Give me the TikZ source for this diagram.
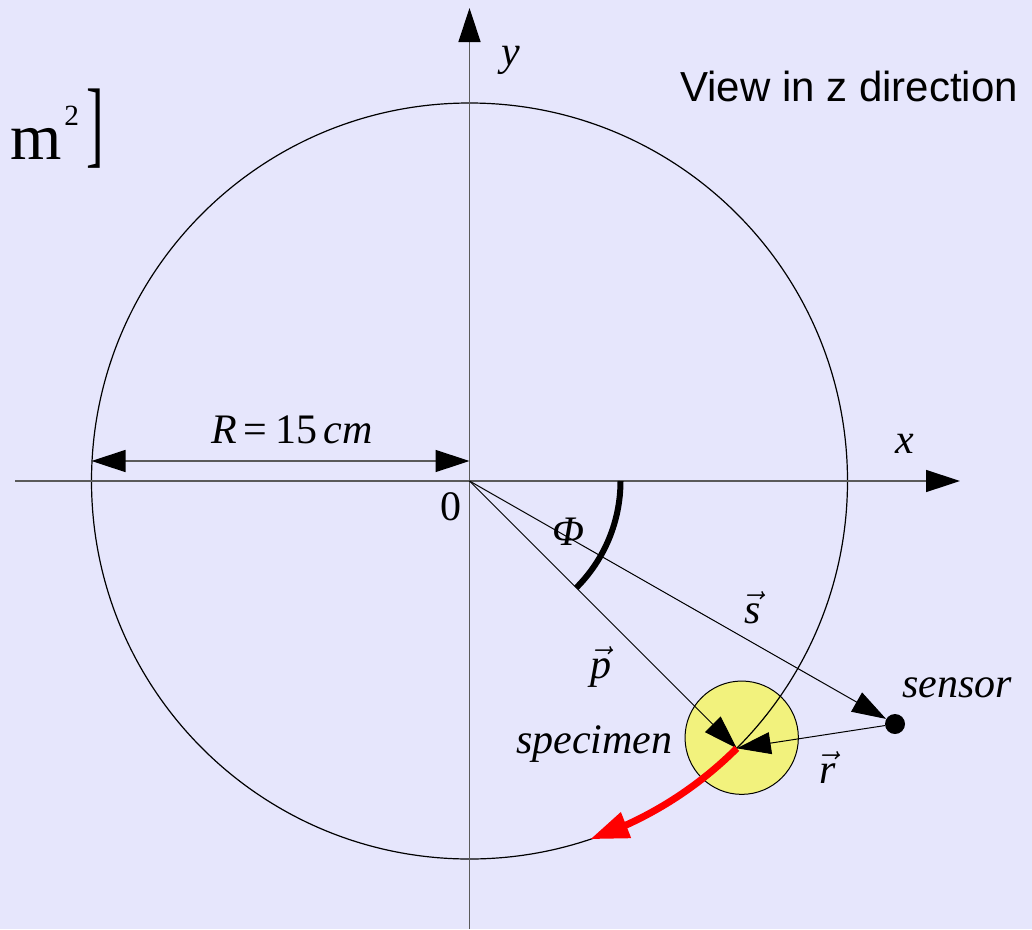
\RequirePackage{fix-cm}
\documentclass[tikz,border=0pt]{standalone}
\usepackage{fontspec}
\setmainfont{Liberation Serif}
\newfontfamily\arialfont{Liberation Sans}
\usetikzlibrary{arrows.meta,bending}
\definecolor{bgcol}{RGB}{230,230,252}
\definecolor{speccol}{RGB}{242,242,125}
\definecolor{axisgray}{RGB}{90,90,90}
\newcommand{\vlab}[1]{\ensuremath{\vec{\mbox{\itshape #1}}}}
\begin{document}
\begin{tikzpicture}[x=0.75pt,y=-0.75pt,
  lbl/.style={font=\fontsize{31.5}{36}\selectfont, inner sep=0pt},
  sanslbl/.style={font=\arialfont\fontsize{31.5}{36}\selectfont, inner sep=0pt},
  bigtip/.style={-{Triangle[length=25.5pt,width=16.5pt,color=black]}},
  axisline/.style={draw=axisgray, line width=1.1pt, bigtip},
  vect/.style={draw=black, line width=0.75pt, bigtip},
]
\fill[bgcol] (0,0) rectangle (1032,929);
\path[use as bounding box] (0,0) rectangle (1032,929);

% coordinates
\coordinate (O) at (469.5,481);
\coordinate (xs) at (15,481);
\coordinate (xe) at (960,481);
\coordinate (ys) at (469.5,929);
\coordinate (ye) at (469.5,8);
\coordinate (P) at (736.8,748.3);
\coordinate (phiA) at (620.5,481);
\coordinate (Rl) at (91.5,461);
\coordinate (Rr) at (469.5,461);

% specimen disc
\node[circle, draw=black, line width=0.75pt, fill=speccol, minimum size=85pt, inner sep=0pt] (specimen) at (741.7,737.7) {};

% big circle
\draw[line width=0.9pt] (O) circle[radius=378];

% axes
\draw[axisline] (xs) -- (xe);
\draw[axisline] (ys) -- (ye);

% radius dimension
\draw[draw=axisgray, line width=1.1pt, {Triangle[length=25.5pt,width=16.5pt,color=black]}-{Triangle[length=25.5pt,width=16.5pt,color=black]}] (Rl) -- (Rr);

% sensor
\node[circle, fill=black, minimum size=15pt, inner sep=0pt] (sensor) at (895,724) {};

% vectors
\draw[vect] (O) -- (P);
\draw[vect] (O) -- (sensor);
\draw[vect] (sensor) -- (P);

% angle arc
\draw[line width=4.5pt] (phiA) arc[start angle=0, end angle=45, radius=151];

% motion arc
\draw[red, line width=5.25pt, -{Triangle[length=29pt,width=19.5pt]}] (P) arc[start angle=45, end angle=71.4, radius=378];

% labels
\node[sanslbl, anchor=base west] (title) at (680,101.7) {View in z direction};
\node[lbl, anchor=base west] (rlabel) at (211,443) {\textit{R}\hspace{5pt}=\hspace{6pt}15\hspace{5pt}\textit{cm}};
\node[lbl, anchor=base] (ylabel) at (511,65) {\textit{y}};
\node[lbl, anchor=base] (xlabel) at (905,453) {\textit{x}};
\node[lbl, anchor=base] (zero) at (451,520) {0};
\node[lbl, anchor=base] (phi) at (568.5,545) {\textit{Φ}};
\node[lbl, anchor=base] (slabel) at (753,623) {\vlab{s}};
\node[lbl, anchor=base] (plabel) at (601,678) {\vlab{p}};
\node[lbl, anchor=base] (rvlabel) at (828,783) {\vlab{r}};
\node[lbl, anchor=base west] (senslabel) at (902,697) {\textit{sensor}};
\node[lbl, anchor=base west] (speclabel) at (516,753) {\textit{specimen}};

% truncated formula remnant
\node[inner sep=0pt, font=\fontsize{49.5}{55}\selectfont, anchor=base west] (mlabel) at (10,159) {m};
\node[inner sep=0pt, font=\fontsize{22}{24}\selectfont, anchor=north west] (suptwo) at (64,106) {2};
\node[inner sep=0pt, font=\fontsize{72}{80}\selectfont, anchor=base west] (bracket) at (86,155) {\scalebox{0.55}[1]{]}};
\end{tikzpicture}
\end{document}
